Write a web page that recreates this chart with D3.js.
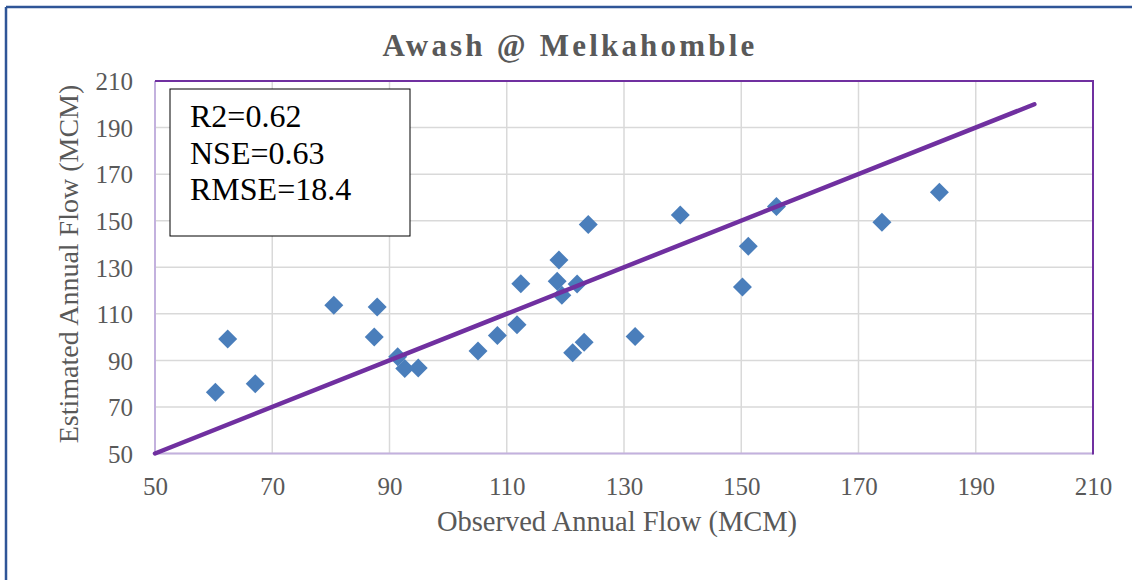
<!DOCTYPE html>
<html>
<head>
<meta charset="utf-8">
<script src="https://cdn.jsdelivr.net/npm/d3@7/dist/d3.min.js"></script>
<style>
  html, body { margin: 0; padding: 0; background: #fff; }
  svg { display: block; }
</style>
</head>
<body>
<svg id="chart" width="1132" height="580"></svg>
<script>
// ---- Data ----
const chartTitle = "Awash @ Melkahomble";
const xAxisTitle = "Observed Annual Flow (MCM)";
const yAxisTitle = "Estimated Annual Flow (MCM)";
const statsLines = ["R2=0.62", "NSE=0.63", "RMSE=18.4"];
const observed  = [60.3, 62.4, 67.1, 80.5, 87.4, 87.9, 91.4, 92.6, 94.9, 105.1, 108.4, 111.75, 112.4, 118.6, 118.9, 119.4, 121.25, 122.0, 123.2, 123.9, 131.9, 139.6, 150.2, 151.2, 156.0, 174.0, 183.8];
const estimated = [76.3, 99.2, 80.0, 113.7, 100.0, 112.9, 91.6, 86.5, 86.7, 94.0, 100.7, 105.3, 122.9, 124.0, 133.1, 118.0, 93.3, 122.8, 97.8, 148.4, 100.3, 152.4, 121.5, 139.0, 156.1, 149.3, 162.2];
const lineX = [50, 200];
const lineY = [50, 200];
const tickValues = [50, 70, 90, 110, 130, 150, 170, 190, 210];

// ---- Layout ----
const svg = d3.select("#chart");
const L = 155, R = 1093, T = 81, B = 453.5;
const x = d3.scaleLinear().domain([50, 210]).range([L, R]);
const y = d3.scaleLinear().domain([50, 210]).range([B, T]);
const serif = "'Liberation Serif', 'Times New Roman', 'DejaVu Serif', serif";
const gray = "#595959";

// outer frame
svg.append("line").attr("x1", 6).attr("x2", 1132).attr("y1", 7).attr("y2", 7)
  .attr("stroke", "#2f5597").attr("stroke-width", 2.5);
svg.append("line").attr("x1", 6).attr("x2", 6).attr("y1", 7).attr("y2", 580)
  .attr("stroke", "#2f5597").attr("stroke-width", 2.5);

// title
svg.append("text").attr("x", 570).attr("y", 56)
  .attr("text-anchor", "middle")
  .style("font-family", serif).style("font-weight", "bold")
  .style("font-size", "31px").style("letter-spacing", "3.2px")
  .attr("fill", gray).text(chartTitle);

// gridlines
const grid = svg.append("g");
grid.selectAll("line.v").data(tickValues).join("line")
  .attr("x1", d => x(d)).attr("x2", d => x(d)).attr("y1", T).attr("y2", B)
  .attr("stroke", "#d9d9d9").attr("stroke-width", 1.5);
grid.selectAll("line.h").data(tickValues).join("line")
  .attr("y1", d => y(d)).attr("y2", d => y(d)).attr("x1", L).attr("x2", R)
  .attr("stroke", "#d9d9d9").attr("stroke-width", 1.5);

// axes (labels only)
const xAxis = svg.append("g").attr("transform", `translate(0,${B})`)
  .call(d3.axisBottom(x).tickValues(tickValues).tickSize(0).tickPadding(0));
xAxis.select(".domain").remove();
xAxis.selectAll("text").attr("y", 41).attr("dy", null)
  .style("font-family", serif).style("font-size", "25px").attr("fill", gray);

const yAxis = svg.append("g").attr("transform", `translate(${L},0)`)
  .call(d3.axisLeft(y).tickValues(tickValues).tickSize(0).tickPadding(22));
yAxis.select(".domain").remove();
yAxis.selectAll("text").attr("dy", "0.35em")
  .style("font-family", serif).style("font-size", "25px").attr("fill", gray);

// plot area border
svg.append("line").attr("x1", L).attr("x2", L).attr("y1", T).attr("y2", B)
  .attr("stroke", "#c3b1de").attr("stroke-width", 2);
svg.append("line").attr("x1", L).attr("x2", R).attr("y1", B).attr("y2", B)
  .attr("stroke", "#c3b1de").attr("stroke-width", 2);
svg.append("line").attr("x1", L).attr("x2", R + 1).attr("y1", T).attr("y2", T)
  .attr("stroke", "#7030a0").attr("stroke-width", 2);
svg.append("line").attr("x1", R).attr("x2", R).attr("y1", T).attr("y2", B + 1)
  .attr("stroke", "#7030a0").attr("stroke-width", 2);

// axis titles
svg.append("text").attr("x", 617).attr("y", 531)
  .attr("text-anchor", "middle")
  .style("font-family", serif).style("font-size", "28.5px")
  .attr("fill", gray).text(xAxisTitle);
svg.append("text").attr("transform", "translate(78,264) rotate(-90)")
  .attr("text-anchor", "middle")
  .style("font-family", serif).style("font-size", "28px")
  .attr("fill", gray).text(yAxisTitle);

// points
const pts = observed.map((o, i) => ({ o, e: estimated[i] }));
svg.append("g").selectAll("path").data(pts).join("path")
  .attr("d", d3.symbol(d3.symbolSquare, 180))
  .attr("transform", d => `translate(${x(d.o)},${y(d.e)}) rotate(45)`)
  .attr("fill", "#4a7ebb");

// 1:1 line
const lineData = lineX.map((v, i) => [v, lineY[i]]);
svg.append("path").datum(lineData)
  .attr("d", d3.line().x(d => x(d[0])).y(d => y(d[1])))
  .attr("stroke", "#7030a0").attr("stroke-width", 4.5)
  .attr("stroke-linecap", "round").attr("fill", "none");

// stats box
const box = svg.append("g");
box.append("rect").attr("x", 170).attr("y", 89).attr("width", 240).attr("height", 147)
  .attr("fill", "#fff").attr("stroke", "#000").attr("stroke-width", 1);
box.selectAll("text").data(statsLines).join("text")
  .attr("x", 190).attr("y", (d, i) => 127 + i * 36.5)
  .style("font-family", serif).style("font-size", "32px")
  .attr("fill", "#000").text(d => d);
</script>
</body>
</html>
